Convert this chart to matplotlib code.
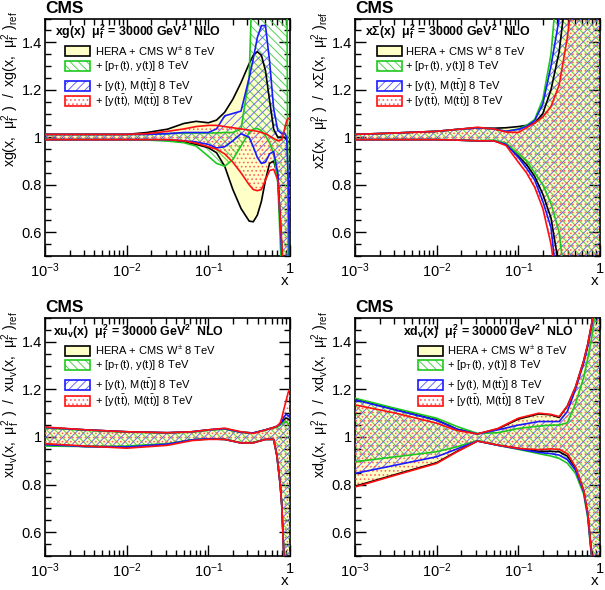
import numpy as np
import matplotlib
matplotlib.use('Agg')
import matplotlib.pyplot as plt
from matplotlib.patches import Rectangle
from matplotlib.ticker import FixedLocator, FixedFormatter, MultipleLocator, LogLocator, NullFormatter

plt.rcParams['font.family'] = ['Liberation Sans', 'DejaVu Sans']
plt.rcParams['mathtext.fontset'] = 'custom'
plt.rcParams['mathtext.rm'] = 'Liberation Sans'
plt.rcParams['mathtext.it'] = 'Liberation Sans:italic'
plt.rcParams['mathtext.bf'] = 'Liberation Sans:bold'
plt.rcParams['mathtext.default'] = 'regular'
plt.rcParams['hatch.linewidth'] = 0.7

# ---------------- data (log10 x grid, band edges) ----------------
# Panel 1: xg(x)
g_logx = [-3, -2.5, -2, -1.75, -1.5, -1.3, -1.15, -1.0, -0.9, -0.8, -0.7, -0.6, -0.5,
          -0.45, -0.4, -0.35, -0.3, -0.25, -0.2, -0.15, -0.1, -0.07, -0.04, -0.02, 0]
g_hera_up = [1.012, 1.012, 1.012, 1.02, 1.034, 1.058, 1.067, 1.061, 1.072, 1.105, 1.16, 1.23, 1.31,
             1.345, 1.36, 1.345, 1.28, 1.155, 1.034, 1.0, 1.0, 1.0, 0.99, 0.98, 0.98]
g_hera_dn = [0.99, 0.99, 0.99, 0.99, 0.987, 0.98, 0.97, 0.956, 0.935, 0.878, 0.78, 0.70, 0.647,
             0.644, 0.672, 0.73, 0.82, 0.89, 0.90, 0.84, 0.53, 0.3, 0.3, 0.3, 0.3]
g_pt_up = [1.012, 1.012, 1.012, 1.012, 1.015, 1.018, 1.018, 1.018, 1.018, 1.02, 1.02, 1.035, 1.25,
           1.8, 1.8, 1.8, 1.8, 1.8, 1.8, 1.8, 1.8, 1.8, 1.8, 0.3, 0.3]
g_pt_dn = [0.99, 0.99, 0.99, 0.988, 0.984, 0.977, 0.963, 0.92, 0.89, 0.878, 0.906, 0.963, 1.02,
           1.034, 1.037, 1.027, 1.006, 0.977, 0.93, 0.81, 0.4, 0.3, 0.3, 0.3, 0.3]
g_ymtt_up = [1.012, 1.012, 1.012, 1.012, 1.015, 1.02, 1.02, 1.02, 1.035, 1.09, 1.10, 1.11, 1.25,
             1.33, 1.42, 1.47, 1.47, 1.32, 1.12, 1.03, 1.015, 1.02, 1.0, 0.8, 0.3]
g_ymtt_dn = [0.99, 0.99, 0.99, 0.99, 0.99, 0.985, 0.98, 0.97, 0.955, 0.96, 0.985, 1.015, 1.0,
             0.96, 0.915, 0.89, 0.895, 0.93, 0.94, 0.85, 0.5, 0.3, 0.3, 0.3, 0.3]
g_yttm_up = [1.012, 1.012, 1.012, 1.015, 1.025, 1.035, 1.045, 1.05, 1.05, 1.045, 1.04, 1.035, 1.03,
             1.028, 1.025, 1.02, 1.015, 1.005, 0.995, 0.985, 0.99, 1.03, 1.07, 1.08, 1.08]
g_yttm_dn = [0.99, 0.99, 0.99, 0.99, 0.99, 0.985, 0.975, 0.96, 0.95, 0.93, 0.895, 0.85, 0.80,
             0.78, 0.775, 0.78, 0.82, 0.86, 0.865, 0.82, 0.55, 0.3, 0.3, 0.3, 0.3]

# Panel 2: xSigma(x)
s_logx = [-3, -2.5, -2, -1.75, -1.5, -1.3, -1.15, -1.0, -0.9, -0.8, -0.7, -0.6, -0.5, -0.4, -0.3, -0.2, 0]
s_hera_up = [1.012, 1.018, 1.025, 1.033, 1.04, 1.038, 1.04, 1.045, 1.05, 1.06, 1.10, 1.2, 1.36, 1.65, 1.9, 1.9, 1.9]
s_hera_dn = [0.99, 0.99, 0.99, 0.988, 0.985, 0.985, 0.972, 0.92, 0.885, 0.835, 0.76, 0.66, 0.45, 0.3, 0.3, 0.3, 0.3]
s_pt_up = [1.012, 1.018, 1.025, 1.033, 1.04, 1.035, 1.025, 1.035, 1.05, 1.075, 1.16, 1.35, 1.75, 1.9, 1.9, 1.9, 1.9]
s_pt_dn = [0.99, 0.99, 0.99, 0.988, 0.985, 0.988, 0.975, 0.93, 0.90, 0.85, 0.80, 0.72, 0.6, 0.3, 0.3, 0.3, 0.3]
s_ymtt_up = [1.012, 1.018, 1.025, 1.033, 1.04, 1.035, 1.025, 1.033, 1.045, 1.07, 1.14, 1.3, 1.5, 1.9, 1.9, 1.9, 1.9]
s_ymtt_dn = [0.99, 0.99, 0.99, 0.988, 0.985, 0.985, 0.97, 0.915, 0.87, 0.82, 0.73, 0.62, 0.3, 0.3, 0.3, 0.3, 0.3]
s_yttm_up = [1.012, 1.018, 1.025, 1.033, 1.042, 1.035, 1.022, 1.02, 1.04, 1.06, 1.085, 1.13, 1.22, 1.42, 1.7, 1.9, 1.9]
s_yttm_dn = [0.99, 0.99, 0.99, 0.988, 0.985, 0.985, 0.965, 0.895, 0.85, 0.79, 0.70, 0.55, 0.3, 0.3, 0.3, 0.3, 0.3]

# Panel 3: xu_v(x)
u_logx = [-3, -2.5, -2, -1.5, -1.2, -1.0, -0.8, -0.6, -0.45, -0.3, -0.2, -0.16, -0.12, -0.1, -0.08, -0.05, -0.02, 0]
u_hera_up = [1.04, 1.03, 1.022, 1.018, 1.022, 1.03, 1.035, 1.02, 1.017, 1.03, 1.04, 1.045, 1.052, 1.06, 1.07, 1.08, 1.075, 1.07]
u_hera_dn = [0.968, 0.96, 0.958, 0.97, 0.988, 0.992, 0.99, 0.975, 0.976, 0.99, 0.99, 0.92, 0.8, 0.71, 0.54, 0.3, 0.3, 0.3]
u_pt_up = [1.038, 1.028, 1.02, 1.017, 1.02, 1.028, 1.033, 1.02, 1.016, 1.03, 1.038, 1.04, 1.05, 1.055, 1.06, 1.065, 1.055, 1.05]
u_pt_dn = [0.962, 0.96, 0.962, 0.972, 0.988, 0.992, 0.99, 0.976, 0.977, 0.99, 0.99, 0.92, 0.8, 0.71, 0.54, 0.3, 0.3, 0.3]
u_ymtt_up = [1.04, 1.03, 1.022, 1.018, 1.022, 1.03, 1.035, 1.02, 1.017, 1.03, 1.04, 1.045, 1.055, 1.065, 1.08, 1.095, 1.09, 1.08]
u_ymtt_dn = [0.968, 0.96, 0.958, 0.97, 0.988, 0.992, 0.99, 0.975, 0.976, 0.99, 0.99, 0.92, 0.8, 0.71, 0.54, 0.3, 0.3, 0.3]
u_yttm_up = [1.042, 1.03, 1.022, 1.018, 1.022, 1.03, 1.037, 1.022, 1.015, 1.03, 1.04, 1.045, 1.06, 1.08, 1.11, 1.15, 1.19, 1.2]
u_yttm_dn = [0.972, 0.962, 0.953, 0.965, 0.985, 0.99, 0.99, 0.975, 0.975, 0.99, 0.99, 0.92, 0.8, 0.71, 0.54, 0.3, 0.3, 0.3]

# Panel 4: xd_v(x)
d_logx = [-3, -2.5, -2, -1.75, -1.5, -1.25, -1.0, -0.75, -0.6, -0.5, -0.4, -0.3, -0.2, -0.15, -0.1, -0.05, 0]
d_hera_up = [1.159, 1.115, 1.072, 1.033, 1.013, 1.034, 1.075, 1.097, 1.093, 1.082, 1.13, 1.21, 1.32, 1.39, 1.48, 1.6, 1.8]
d_hera_dn = [0.793, 0.843, 0.892, 0.94, 0.983, 0.966, 0.952, 0.94, 0.94, 0.938, 0.92, 0.87, 0.775, 0.675, 0.5, 0.3, 0.2]
d_pt_up = [1.163, 1.12, 1.079, 1.044, 1.015, 1.018, 1.036, 1.046, 1.05, 1.05, 1.06, 1.14, 1.25, 1.33, 1.42, 1.55, 1.8]
d_pt_dn = [0.896, 0.917, 0.938, 0.959, 0.985, 0.965, 0.948, 0.93, 0.92, 0.91, 0.89, 0.847, 0.76, 0.66, 0.48, 0.3, 0.2]
d_ymtt_up = [1.156, 1.113, 1.07, 1.032, 1.013, 1.03, 1.05, 1.065, 1.065, 1.065, 1.107, 1.2, 1.31, 1.38, 1.47, 1.6, 1.8]
d_ymtt_dn = [0.847, 0.882, 0.917, 0.95, 0.983, 0.965, 0.95, 0.935, 0.93, 0.924, 0.905, 0.86, 0.77, 0.67, 0.49, 0.3, 0.2]
d_yttm_up = [1.135, 1.10, 1.058, 1.027, 1.013, 1.036, 1.079, 1.10, 1.095, 1.086, 1.13, 1.21, 1.32, 1.39, 1.48, 1.6, 1.8]
d_yttm_dn = [0.79, 0.84, 0.889, 0.938, 0.983, 0.966, 0.952, 0.947, 0.95, 0.948, 0.93, 0.875, 0.777, 0.68, 0.5, 0.3, 0.2]

series_labels = [r'HERA + CMS W$^{\pm}$ 8 TeV',
                 r'+ [p$_{T}$(t), y(t)] 8 TeV',
                 r'+ [y(t), M(t$\bar{t}$)] 8 TeV',
                 r'+ [y(t$\bar{t}$), M(t$\bar{t}$)] 8 TeV']

panel_names = [r'xg(x)', r'x$\Sigma$(x)', r'xu$_{v}$(x)', r'xd$_{v}$(x)']
ylabels = [r'xg(x,  $\mu_{f}^{2}$ )  /  xg(x,  $\mu_{f}^{2}$ )$_{ref}$',
           r'x$\Sigma$(x,  $\mu_{f}^{2}$ )  /  x$\Sigma$(x,  $\mu_{f}^{2}$ )$_{ref}$',
           r'xu$_{v}$(x,  $\mu_{f}^{2}$ )  /  xu$_{v}$(x,  $\mu_{f}^{2}$ )$_{ref}$',
           r'xd$_{v}$(x,  $\mu_{f}^{2}$ )  /  xd$_{v}$(x,  $\mu_{f}^{2}$ )$_{ref}$']

panels = [
    (g_logx, [(g_hera_up, g_hera_dn), (g_pt_up, g_pt_dn), (g_ymtt_up, g_ymtt_dn), (g_yttm_up, g_yttm_dn)]),
    (s_logx, [(s_hera_up, s_hera_dn), (s_pt_up, s_pt_dn), (s_ymtt_up, s_ymtt_dn), (s_yttm_up, s_yttm_dn)]),
    (u_logx, [(u_hera_up, u_hera_dn), (u_pt_up, u_pt_dn), (u_ymtt_up, u_ymtt_dn), (u_yttm_up, u_yttm_dn)]),
    (d_logx, [(d_hera_up, d_hera_dn), (d_pt_up, d_pt_dn), (d_ymtt_up, d_ymtt_dn), (d_yttm_up, d_yttm_dn)]),
]

# ---------------- styles ----------------
YELLOW = '#ffffc8'
GREEN = '#1fc81f'
BLUE = '#1a1aff'
RED = '#ff1010'
line_colors = ['black', GREEN, BLUE, RED]
hatch_colors = [None, (0.25, 0.8, 0.25, 0.9), (0.35, 0.35, 1.0, 0.9), (1.0, 0.35, 0.35, 0.9)]
hatches = [None, '\\\\\\\\', '////', '....']

fig = plt.figure(figsize=(6.05, 5.9), dpi=100)
W, H = 605.0, 590.0
axes_px = [(45, 18.5, 290, 256), (355, 18.5, 600, 256), (45, 318, 290, 556), (355, 318, 600, 556)]
legend_x = [(0.082, 0.205), (0.09, 0.205), (0.082, 0.205), (0.257, 0.375)]
title_x = [0.04, 0.04, 0.033, 0.196]
leg_rows = [0.862, 0.801, 0.717, 0.652]

for i, ((logx, bands), (x0, y0, x1, y1)) in enumerate(zip(panels, axes_px)):
    ax = fig.add_axes([x0 / W, 1 - y1 / H, (x1 - x0) / W, (y1 - y0) / H])
    x = 10.0 ** np.array(logx)
    up, dn = bands[0]
    ax.fill_between(x, dn, up, facecolor=YELLOW, edgecolor='none', lw=0, zorder=1)
    for k in (1, 2, 3):
        up, dn = bands[k]
        ax.fill_between(x, dn, up, facecolor='none', edgecolor=hatch_colors[k],
                        hatch=hatches[k], lw=0, zorder=1 + k)
    for k in range(4):
        up, dn = bands[k]
        ax.plot(x, up, color=line_colors[k], lw=1.2, zorder=6 + k)
        ax.plot(x, dn, color=line_colors[k], lw=1.2, zorder=6 + k)

    ax.set_xscale('log')
    ax.set_xlim(1e-3, 1)
    ax.set_ylim(0.5, 1.5)
    ax.xaxis.set_major_locator(FixedLocator([1e-3, 1e-2, 1e-1, 1]))
    ax.xaxis.set_major_formatter(FixedFormatter([r'$10^{-3}$', r'$10^{-2}$', r'$10^{-1}$', '1']))
    ax.xaxis.set_minor_locator(LogLocator(base=10, subs=np.arange(2, 10)))
    ax.xaxis.set_minor_formatter(NullFormatter())
    ax.yaxis.set_major_locator(FixedLocator([0.6, 0.8, 1.0, 1.2, 1.4]))
    ax.yaxis.set_major_formatter(FixedFormatter(['0.6', '0.8', '1', '1.2', '1.4']))
    ax.yaxis.set_minor_locator(MultipleLocator(0.05))
    ax.tick_params(which='both', direction='in', top=True, right=True, width=1.0, labelsize=10.5)
    ax.tick_params(which='major', length=8)
    ax.tick_params(which='minor', length=4)
    ax.tick_params(axis='x', pad=4)
    ax.tick_params(axis='y', pad=2)
    for sp in ax.spines.values():
        sp.set_linewidth(1.2)

    ax.text(0.0, 1.012, 'CMS', transform=ax.transAxes, fontsize=12.5, fontweight='bold',
            ha='left', va='bottom')
    ax.text(0.98, -0.105, 'x', transform=ax.transAxes, fontsize=11, ha='center', va='center')
    ax.text(-0.14, 1.03, ylabels[i], transform=ax.transAxes, rotation=90, fontsize=10.2,
            ha='center', va='top')
    ax.text(title_x[i], 0.943, panel_names[i] + r'  $\mu_{f}^{2}$ = 30000 GeV$^{2}$  NLO',
            transform=ax.transAxes, fontsize=8.9, fontweight='bold', ha='left', va='center', zorder=20)

    px, tx = legend_x[i]
    for k in range(4):
        yc = leg_rows[k]
        if k == 0:
            r = Rectangle((px, yc - 0.021), 0.102, 0.042, transform=ax.transAxes,
                          facecolor=YELLOW, edgecolor='black', lw=1.2, zorder=20)
            ax.add_patch(r)
        else:
            rb = Rectangle((px, yc - 0.021), 0.102, 0.042, transform=ax.transAxes,
                           facecolor='white', edgecolor=hatch_colors[k], hatch=hatches[k], lw=0, zorder=20)
            ax.add_patch(rb)
            r = Rectangle((px, yc - 0.021), 0.102, 0.042, transform=ax.transAxes,
                          facecolor='none', edgecolor=line_colors[k], lw=1.2, zorder=20.5)
            ax.add_patch(r)
        ax.text(tx, yc, series_labels[k], transform=ax.transAxes, fontsize=8.0,
                ha='left', va='center', zorder=21)

fig.savefig('out.png', dpi=100)
